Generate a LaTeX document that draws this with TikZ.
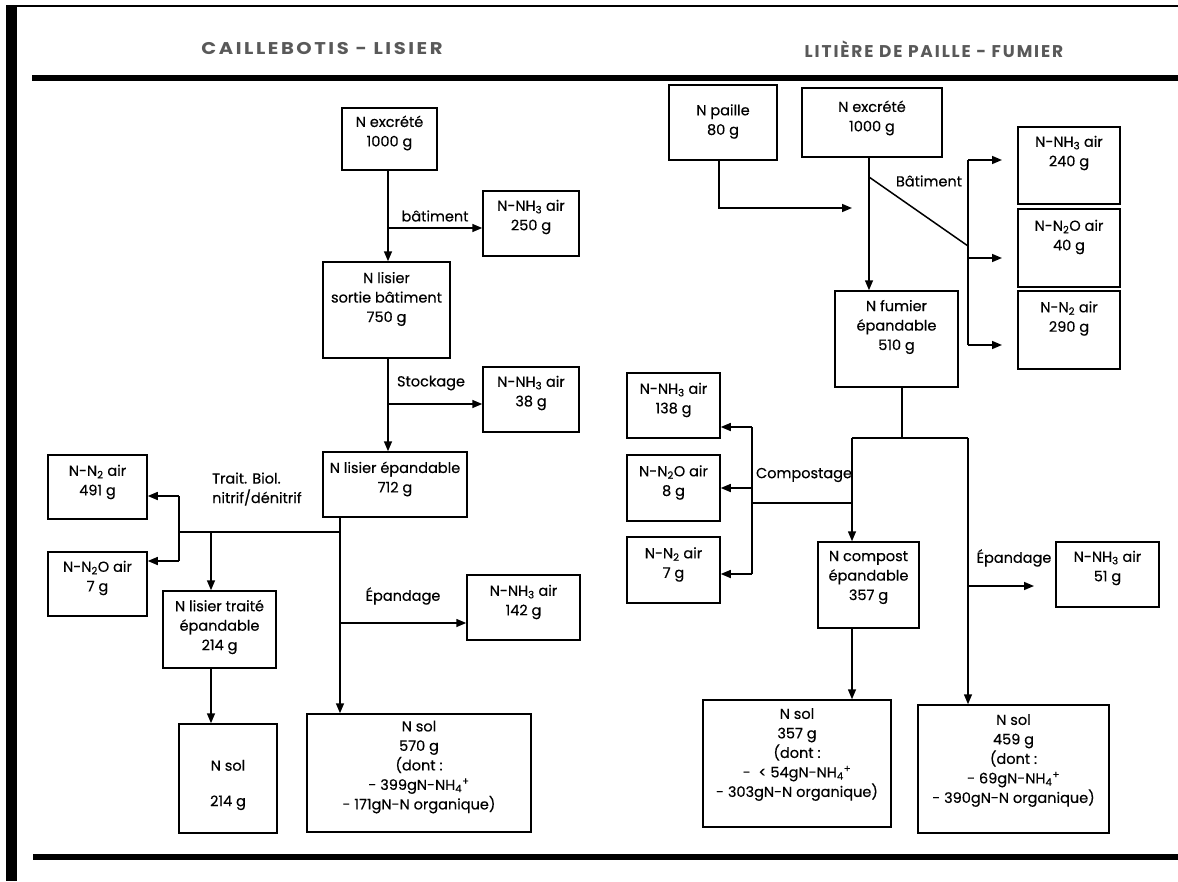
\documentclass[tikz,border=0pt]{standalone}
\usepackage{fontspec}
\setmainfont{Poppins}
\usetikzlibrary{arrows.meta,fit,calc}

% a framed box with its text placed at a given height
\newcommand\boite[7]{%
  \node[cadre, fit={(#2,#3) (#4,#5)}] (#1) {};
  \node[texte] (#1-t) at ({(#2+#4)/2},#6) {#7};}

\begin{document}
\begin{tikzpicture}[x=1pt,y=-1pt,
  cadre/.style={draw, line width=1.5pt, inner sep=0pt},
  texte/.style={inner sep=0pt, align=center, font=\fontsize{14.5}{19.5}\selectfont\addfontfeatures{FakeBold=0.4}},
  titre/.style={inner sep=0pt, text=black!65, font=\fontsize{17}{19}\selectfont\bfseries},
  ln/.style={line width=1.5pt},
  fl/.style={line width=1.5pt, -{Triangle[length=10pt,width=8pt]}}]

\useasboundingbox (0,0) rectangle (1178,881);

% page frame and rules
\fill (6,5) rectangle (17,881);
\fill (6,5) rectangle (1178,7);
\fill (32,75) rectangle (1178,81);
\fill (33,854) rectangle (1178,860);

% headings
\node[titre] (hL) at (322,49) {\addfontfeatures{FakeStretch=1.15,LetterSpace=15}CAILLEBOTIS - LISIER};
\node[titre] (hR) at (934,49) {\addfontfeatures{LetterSpace=11}LITIÈRE DE PAILLE - FUMIER};

% ---------- slatted floor / slurry ----------
\boite{exL}{342}{108}{437}{170}{133}{N excrété\\1000 g}
\boite{nh250}{483}{191}{579}{256}{217}{N-NH\textsubscript{3} air\\250 g}
\boite{sortie}{323}{262}{450}{358}{299}{N lisier\\sortie bâtiment\\750 g}
\boite{nh38}{483}{367}{579}{432}{393}{N-NH\textsubscript{3} air\\38 g}
\boite{epL}{323}{452}{467}{517}{479}{N lisier épandable\\712 g}
\boite{n2L}{48}{455}{147}{519}{482}{N-N\textsubscript{2} air\\491 g}
\boite{n2oL}{48}{552}{147}{616}{578}{N-N\textsubscript{2}O air\\7 g}
\boite{traite}{163}{591}{276}{668}{627}{N lisier traité\\épandable\\214 g}
\boite{sol214}{179}{724}{277}{833}{785}{N sol\\[16pt]214 g}
\boite{nh142}{467}{575}{580}{640}{602}{N-NH\textsubscript{3} air\\142 g}
\boite{sol570}{307}{714}{531}{832}{767}{N sol\\570 g\\(dont :\\- 399gN-NH\textsubscript{4}\textsuperscript{+}\\- 171gN-N organique)}

\coordinate (bL1) at (388,228);
\draw[fl] (exL.south -| bL1) -- (bL1 |- sortie.north);
\draw[fl] (bL1) -- (bL1 -| nh250.west);
\node[texte] (lbat) at (435,216) {bâtiment};

\coordinate (bL2) at (388,404);
\draw[fl] (sortie.south -| bL2) -- (bL2 |- epL.north);
\draw[fl] (bL2) -- (bL2 -| nh38.west);
\node[texte] (lsto) at (431,383) {Stockage};

\coordinate (jL) at (340,532);
\coordinate (jL2) at (179,532);
\draw[fl] (epL.south -| jL) -- (jL |- sol570.north);
\draw[ln] (jL) -- (jL2);
\coordinate (bN2) at (179,496);
\coordinate (bN2O) at (179,561);
\draw[ln] (bN2) -- (bN2O);
\draw[fl] (bN2) -- (bN2 -| n2L.east);
\draw[fl] (bN2O) -- (bN2O -| n2oL.east);
\coordinate (bT) at (211,532);
\draw[fl] (bT) -- (bT |- traite.north);
\draw[fl] (traite.south -| bT) -- (bT |- sol214.north);
\node[texte, anchor=west, align=left] (ltrait) at (212,489) {Trait. Biol.\\nitrif/dénitrif};

\coordinate (bE) at (340,623);
\draw[fl] (bE) -- (bE -| nh142.west);
\node[texte] (lepL) at (403,596) {Épandage};

% ---------- straw litter / manure ----------
\boite{paille}{669}{85}{777}{160}{121.5}{N paille\\80 g}
\boite{exR}{802}{88}{942}{157}{118}{N excrété\\1000 g}
\boite{nh240}{1018}{127}{1120}{204}{153}{N-NH\textsubscript{3} air\\240 g}
\boite{n2o40}{1018}{209}{1120}{287}{237}{N-N\textsubscript{2}O air\\40 g}
\boite{n2b}{1018}{291}{1120}{369}{318.5}{N-N\textsubscript{2} air\\290 g}
\boite{fumier}{835}{291}{958}{387}{327}{N fumier\\épandable\\510 g}
\boite{nh138}{627}{373}{720}{438}{400}{N-NH\textsubscript{3} air\\138 g}
\boite{n2o8}{627}{455}{720}{521}{482.5}{N-N\textsubscript{2}O air\\8 g}
\boite{n2c}{627}{537}{720}{603}{564.5}{N-N\textsubscript{2} air\\7 g}
\boite{compost}{818}{542}{919}{628}{577.5}{N compost\\épandable\\357 g}
\boite{nh51}{1056}{542}{1159}{607}{568}{N-NH\textsubscript{3} air\\51 g}
\boite{sol357}{703}{700}{891}{827}{754.5}{N sol\\357 g\\(dont :\\-~~< 54gN-NH\textsubscript{4}\textsuperscript{+}\\- 303gN-N organique)}
\boite{sol459}{918}{705}{1109}{833}{760.5}{N sol\\459 g\\(dont :\\- 69gN-NH\textsubscript{4}\textsuperscript{+}\\- 390gN-N organique)}

\coordinate (pc) at (719,208);
\coordinate (pt) at (852,208);
\draw[fl] (paille.south -| pc) -- (pc) -- (pt);

\coordinate (xv) at (869,177);
\draw[fl] (exR.south -| xv) -- (xv |- fumier.north);
\coordinate (dv) at (968,246);
\draw[ln] (xv) -- (dv);
\coordinate (r1) at (968,160);
\coordinate (r2) at (968,258);
\coordinate (r3) at (968,345);
\coordinate (t1) at (1002,160);
\coordinate (t2) at (1002,258);
\coordinate (t3) at (1002,345);
\draw[ln] (r1) -- (r3);
\draw[fl] (r1) -- (t1);
\draw[fl] (r2) -- (t2);
\draw[fl] (r3) -- (t3);
\node[texte] (lbat2) at (929,181) {Bâtiment};

\coordinate (fj) at (902,438);
\coordinate (cj) at (852,438);
\coordinate (ej) at (968,438);
\draw[ln] (fumier.south -| fj) -- (fj);
\draw[ln] (cj) -- (ej);
\draw[fl] (cj) -- (cj |- compost.north);
\draw[fl] (ej) -- (ej |- sol459.north);

\coordinate (ck) at (852,503);
\coordinate (cl) at (752,503);
\draw[ln] (ck) -- (cl);
\coordinate (c1) at (752,427);
\coordinate (c2) at (752,488);
\coordinate (c3) at (752,574);
\draw[ln] (c1) -- (c3);
\draw[fl] (c1) -- (c1 -| nh138.east);
\draw[fl] (c2) -- (c2 -| n2o8.east);
\draw[fl] (c3) -- (c3 -| n2c.east);
\node[texte] (lcomp) at (804,475) {Compostage};

\draw[fl] (compost.south -| cj) -- (cj |- sol357.north);

\coordinate (ep) at (968,586);
\coordinate (ept) at (1034,586);
\draw[fl] (ep) -- (ept);
\node[texte] (lepR) at (1014,558) {Épandage};

\end{tikzpicture}
\end{document}
